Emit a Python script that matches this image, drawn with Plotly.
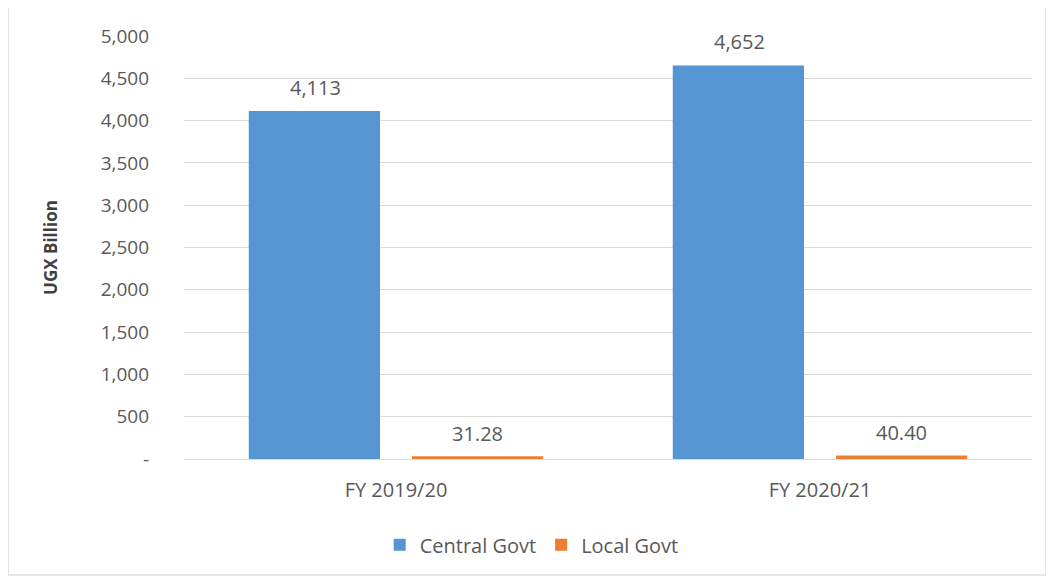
import plotly.graph_objects as go

years = ["FY 2019/20", "FY 2020/21"]
central_govt = [4113, 4652]
local_govt = [31.28, 40.40]
central_text = ["4,113", "4,652"]
local_text = ["31.28", "40.40"]
tick_vals = [0, 500, 1000, 1500, 2000, 2500, 3000, 3500, 4000, 4500, 5000]
tick_text = ["-", "500", "1,000", "1,500", "2,000", "2,500", "3,000",
             "3,500", "4,000", "4,500", "5,000"]

font_family = "Open Sans, Lato, sans-serif"
grey = "#595959"

fig = go.Figure()
fig.add_trace(go.Bar(
    x=years, y=central_govt, name="Central Govt",
    marker=dict(color="#5596D2", line=dict(width=0)),
))
fig.add_trace(go.Bar(
    x=years, y=local_govt, name="Local Govt",
    marker=dict(color="#ED7D31", line=dict(width=0)),
))

# data labels, offset above bars
for i, yr in enumerate(years):
    fig.add_annotation(x=yr, y=central_govt[i], text=central_text[i],
                       xshift=-81, yshift=24, showarrow=False,
                       font=dict(size=20, color=grey, family=font_family))
    fig.add_annotation(x=yr, y=local_govt[i], text=local_text[i],
                       xshift=81, yshift=23, showarrow=False,
                       font=dict(size=20, color=grey, family=font_family))

# outer chart border
fig.add_shape(type="rect", xref="paper", yref="paper",
              x0=-0.2075, x1=1.0165, y0=-0.274, y1=1.071,
              line=dict(color="#D9DEE6", width=1.5))

# page has an 8px body margin, so the figure is a bit smaller
fig.update_layout(
    width=1046, height=572,
    margin=dict(l=176, r=22, t=28, b=121),
    paper_bgcolor="white", plot_bgcolor="white",
    barmode="group", bargap=0.23, bargroupgap=0.196,
    font=dict(family=font_family, color=grey, size=19),
    showlegend=True,
    legend=dict(orientation="h", x=0.41, xanchor="center", y=-0.203,
                yanchor="middle", font=dict(size=20, color=grey),
                itemwidth=30, traceorder="normal"),
    xaxis=dict(showgrid=False, showline=False, ticks="",
               ticklabelstandoff=17,
               tickfont=dict(size=20, color=grey)),
    yaxis=dict(range=[0, 5000], tickvals=tick_vals, ticktext=tick_text,
               showgrid=True, gridcolor="#D9D9D9", gridwidth=1,
               zeroline=True, zerolinecolor="#D9D9D9", zerolinewidth=1,
               ticklabelstandoff=34,
               tickfont=dict(size=19, color=grey),
               title=dict(text="<b>UGX Billion</b>", standoff=38,
                          font=dict(size=17, color="#404040"))),
)

fig.write_html("out.html")
